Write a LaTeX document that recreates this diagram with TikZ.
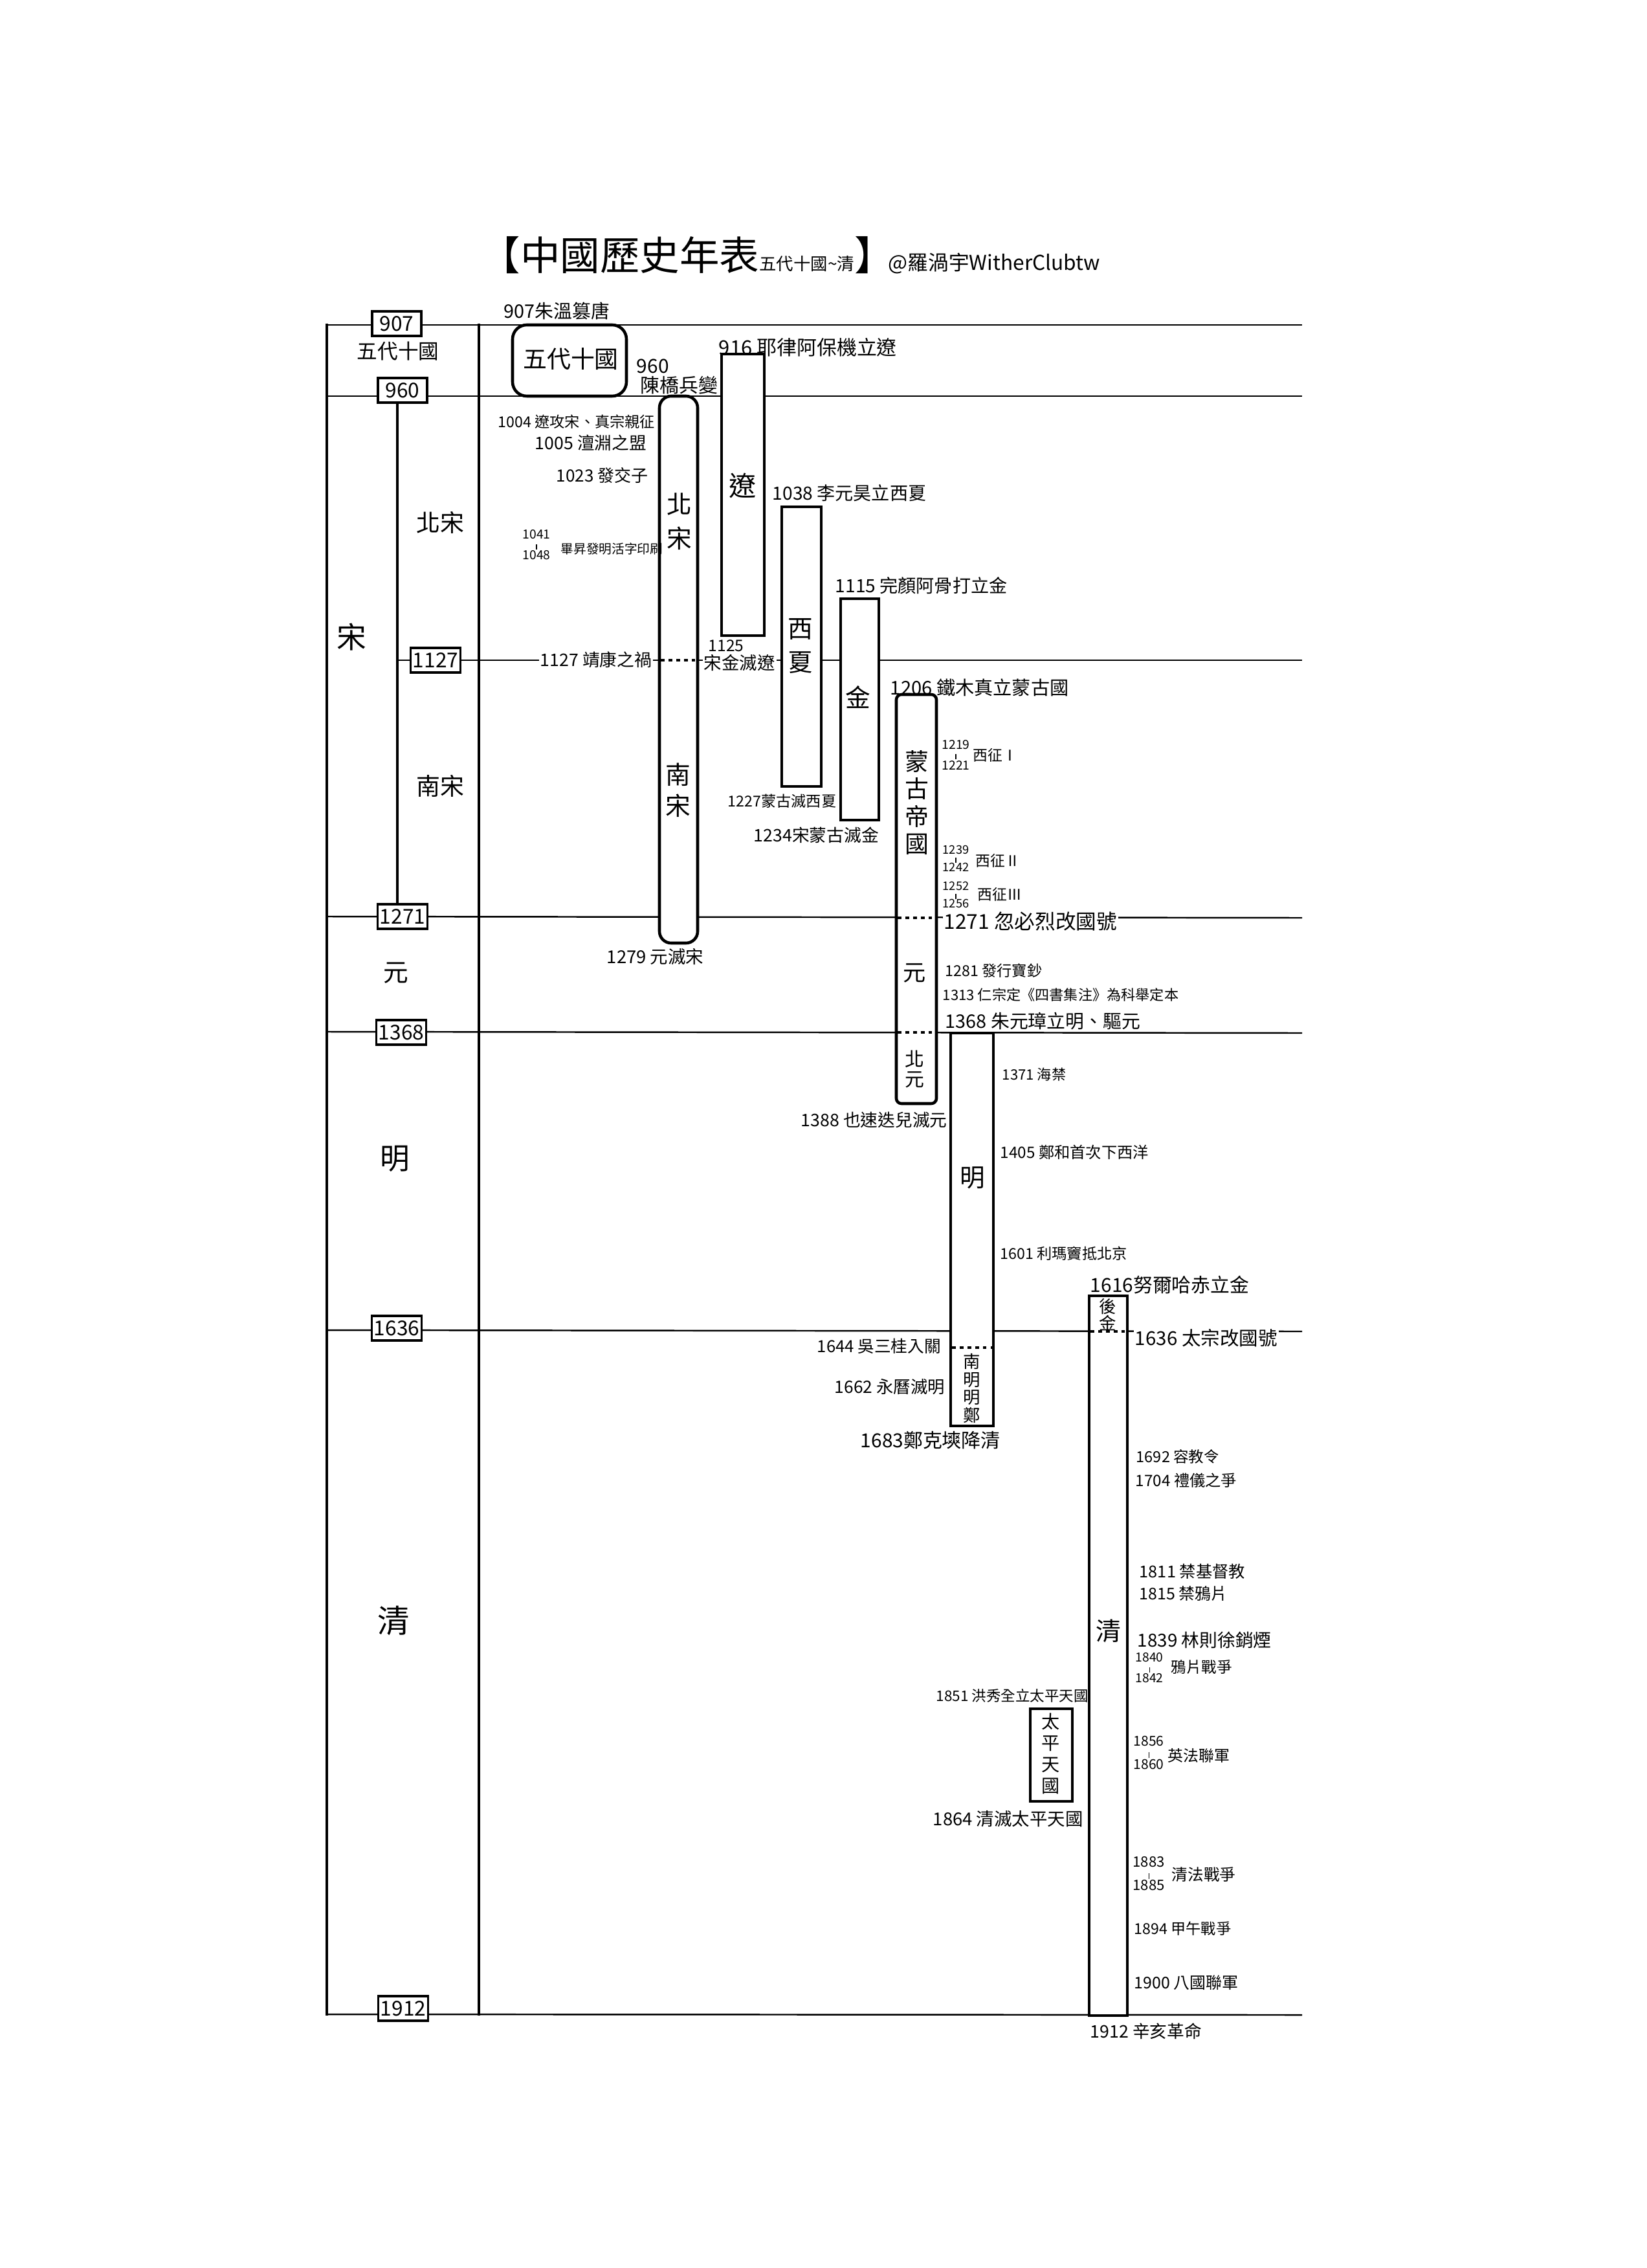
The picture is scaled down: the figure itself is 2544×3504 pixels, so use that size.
\documentclass[tikz,border=0pt]{standalone}
\usepackage{fontspec}
\setmainfont{Noto Sans CJK TC}
\newcommand\fpt[1]{\fontsize{#1pt}{#1pt}\selectfont}
% stacked year range: first year, a small tick, last year
\newcommand\yspan[2]{#1\\[-0.3em]\rule{0.3pt}{0.4em}\\[-0.3em]#2}
\begin{document}
\begin{tikzpicture}[x=0.01cm,y=-0.01cm,
  hline/.style={line width=0.7pt},
  vline/.style={line width=1.2pt},
  subline/.style={line width=0.9pt},
  dyn/.style={draw,line width=1.3pt,fill=white},
  trans/.style={line width=1.1pt,dash pattern=on 1.6pt off 1.8pt},
  ybox/.style={draw,line width=0.9pt,fill=white,inner sep=1pt,
    minimum width=0.76cm,minimum height=0.38cm,font=\fpt{9}},
  lab/.style={inner sep=0.6pt,anchor=west},
  labr/.style={inner sep=0.6pt,anchor=east},
  onl/.style={fill=white},
  vt/.style={align=center,inner sep=0pt},
  yst/.style={align=center,inner sep=0pt,font=\fontsize{5.5pt}{6.2pt}\selectfont},
]
\useasboundingbox (0,0) rectangle (2544,3504);

% title and author
\node[anchor=base west,inner sep=0pt] (title) at (742,418)
  {\fpt{17.5}【中國歷史年表{\fpt{7.5}五代十國\textasciitilde 清}】};
\node[anchor=base west,inner sep=0pt] (author) at ([xshift=-0.1cm]title.base east)
  {\fpt{9}@羅渦宇WitherClubtw};

% year grid
\draw[hline] (505,502) -- (2012,502);
\draw[hline] (505,612) -- (2012,612);
\draw[hline] (614,1020) -- (2012,1020);
\draw[hline] (505,1416) -- (2012,1418);
\draw[hline] (505,1594) -- (2012,1596);
\draw[hline] (505,2055) -- (2012,2057);
\draw[hline] (505,3112) -- (2012,3113);
\draw[vline] (505,500) -- (505,3114);
\draw[vline] (740,500) -- (740,3114);
\draw[subline] (614,612) -- (614,1416);

% year markers
\node[ybox] (y907) at (613,500) {907};
\node[ybox] (y960) at (622,603) {960};
\node[ybox] (y1127) at (673,1020) {1127};
\node[ybox] (y1271) at (622,1416) {1271};
\node[ybox] (y1368) at (620,1595) {1368};
\node[ybox] (y1636) at (613,2052) {1636};
\node[ybox] (y1912) at (623,3103) {1912};

% period names in the left column
\node[font=\fpt{9}] (l5d) at (615,543) {五代十國};
\node[font=\fpt{13}] (lsong) at (543,984) {宋};
\node[font=\fpt{10.5}] (lbs) at (680,807) {北宋};
\node[font=\fpt{10.5}] (lns) at (680,1214) {南宋};
\node[font=\fpt{11}] (lyuan) at (612,1503) {元};
\node[font=\fpt{13}] (lming) at (610,1790) {明};
\node[font=\fpt{14}] (lqing) at (608,2504) {清};

% dynasty bars
\draw[dyn,rounded corners=0.22cm] (792,502) rectangle (968,612);
\draw[dyn,rounded corners=0.18cm] (1019,612) rectangle (1078,1457);
\draw[dyn] (1115,547) rectangle (1181,982);
\draw[dyn] (1208,783) rectangle (1269,1215);
\draw[dyn] (1299,925) rectangle (1358,1267);
\draw[dyn,rounded corners=0.08cm] (1385,1073) rectangle (1447,1705);
\draw[dyn] (1469,1596) rectangle (1535,2203);
\draw[dyn] (1683,2002) rectangle (1742,3114);
\draw[dyn] (1592,2640) rectangle (1657,2783);

% transitions inside the bars
\draw[trans] (1021,1020) -- (1076,1020);
\draw[trans] (1387,1418) -- (1445,1418);
\draw[trans] (1387,1595) -- (1445,1595);
\draw[trans] (1471,2082) -- (1533,2082);
\draw[trans] (1685,2057) -- (1740,2057);

% names inside the bars
\node[font=\fpt{10.5}] (t5d) at (882,555) {五代十國};
\node[vt,font=\fontsize{11pt}{15pt}\selectfont] (tbs) at (1050,806) {北\\宋};
\node[vt,font=\fontsize{11pt}{13.5pt}\selectfont] (tns) at (1048,1221) {南\\宋};
\node[font=\fpt{12}] (tliao) at (1148,750) {遼};
\node[vt,font=\fontsize{11pt}{15pt}\selectfont] (txx) at (1237,998) {西\\夏};
\node[font=\fpt{11}] (tjin) at (1326,1077) {金};
\node[vt,font=\fontsize{10.5pt}{12pt}\selectfont] (tmg) at (1417,1240) {蒙\\古\\帝\\國};
\node[font=\fpt{10}] (tyuan) at (1413,1503) {元};
\node[vt,font=\fontsize{8.5pt}{9pt}\selectfont] (tby) at (1413,1652) {北\\元};
\node[font=\fpt{11}] (tming) at (1503,1820) {明};
\node[vt,font=\fontsize{7.5pt}{7.8pt}\selectfont] (tnm) at (1502,2145) {南\\明\\明\\鄭};
\node[vt,font=\fontsize{7.5pt}{7.2pt}\selectfont] (thj) at (1712,2031) {後\\金};
\node[font=\fpt{11}] (tqing) at (1713,2520) {清};
\node[vt,font=\fontsize{8pt}{9.4pt}\selectfont] (ttp) at (1624,2709) {太\\平\\天\\國};

% events
\node[lab,font=\fpt{8.2}] (e907) at (776,480) {907朱溫篡唐};
\node[lab,font=\fpt{8.8}] (e916) at (1108,537) {916 耶律阿保機立遼};
\node[lab,font=\fpt{8.5}] (e960a) at (981,566) {960};
\node[lab,font=\fpt{8.5}] (e960b) at (987,595) {陳橋兵變};
\node[labr,font=\fpt{6.6}] (e1004) at (1015,652) {1004 遼攻宋、真宗親征};
\node[lab,font=\fpt{7.6}] (e1005) at (824,684) {1005 澶淵之盟};
\node[lab,font=\fpt{7.4}] (e1023) at (857,735) {1023 發交子};
\node[yst] (y1041) at (829,842) {\yspan{1041}{1048}};
\node[lab,font=\fpt{5.6}] (e1041) at (864,848) {畢昇發明活字印刷};
\node[lab,onl,font=\fpt{7.6}] (e1127) at (832,1019) {1127 靖康之禍};
\node[lab,font=\fpt{7}] (e1125a) at (1092,998) {1125};
\node[lab,onl,font=\fpt{7.8}] (e1125b) at (1085,1024) {宋金滅遼};
\node[lab,font=\fpt{8}] (e1038) at (1191,762) {1038 李元昊立西夏};
\node[lab,font=\fpt{8}] (e1115) at (1288,905) {1115 完顏阿骨打立金};
\node[lab,font=\fpt{6.6}] (e1227) at (1122,1238) {1227蒙古滅西夏};
\node[lab,font=\fpt{7.6}] (e1234) at (1162,1290) {1234宋蒙古滅金};
\node[lab,font=\fpt{8.3}] (e1206) at (1373,1062) {1206 鐵木真立蒙古國};
\node[yst] (y1219) at (1477,1166) {\yspan{1219}{1221}};
\node[lab,font=\fpt{6.5}] (e1219) at (1501,1167) {西征Ⅰ};
\node[yst,font=\fontsize{5.2pt}{5.4pt}\selectfont] (y1239) at (1477,1326) {\yspan{1239}{1242}};
\node[lab,font=\fpt{6.5}] (e1239) at (1505,1330) {西征Ⅱ};
\node[yst,font=\fontsize{5.2pt}{5.4pt}\selectfont] (y1252) at (1477,1382) {\yspan{1252}{1256}};
\node[lab,font=\fpt{6.5}] (e1252) at (1508,1382) {西征Ⅲ};
\node[lab,onl,font=\fpt{9}] (e1271) at (1456,1424) {1271 忽必烈改國號};
\node[lab,font=\fpt{7.8}] (e1279) at (935,1478) {1279 元滅宋};
\node[lab,font=\fpt{6.6}] (e1281) at (1458,1500) {1281 發行寶鈔};
\node[lab,font=\fpt{6.3}] (e1313) at (1454,1537) {1313 仁宗定《四書集注》為科舉定本};
\node[lab,font=\fpt{8.2}] (e1368) at (1458,1578) {1368 朱元璋立明、驅元};
\node[lab,font=\fpt{7.6}] (e1388) at (1235,1730) {1388 也速迭兒滅元};
\node[lab,font=\fpt{6.3}] (e1371) at (1546,1660) {1371 海禁};
\node[lab,font=\fpt{6.9}] (e1405) at (1543,1780) {1405 鄭和首次下西洋};
\node[lab,font=\fpt{6.6}] (e1601) at (1543,1937) {1601 利瑪竇抵北京};
\node[lab,font=\fpt{8.5}] (e1616) at (1682,1985) {1616努爾哈赤立金};
\node[lab,onl,font=\fpt{8.4}] (e1636) at (1751,2067) {1636 太宗改國號};
\node[lab,font=\fpt{7.3}] (e1644) at (1260,2080) {1644 吳三桂入關};
\node[lab,font=\fpt{7.5}] (e1662) at (1287,2143) {1662 永曆滅明};
\node[lab,font=\fpt{8.5}] (e1683) at (1327,2225) {1683鄭克塽降清};
\node[lab,font=\fpt{6.7}] (e1692) at (1753,2250) {1692 容教令};
\node[lab,font=\fpt{6.9}] (e1704) at (1752,2287) {1704 禮儀之爭};
\node[lab,font=\fpt{7.2}] (e1811) at (1758,2428) {1811 禁基督教};
\node[lab,font=\fpt{7.1}] (e1815) at (1758,2462) {1815 禁鴉片};
\node[lab,font=\fpt{7.9}] (e1839) at (1755,2534) {1839 林則徐銷煙};
\node[yst] (y1840) at (1776,2577) {\yspan{1840}{1842}};
\node[lab,font=\fpt{6.7}] (e1840) at (1807,2576) {鴉片戰爭};
\node[lab,font=\fpt{6.4}] (e1851) at (1444,2620) {1851 洪秀全立太平天國};
\node[lab,font=\fpt{7.8}] (e1864) at (1439,2810) {1864 清滅太平天國};
\node[yst,font=\fontsize{6pt}{7pt}\selectfont] (y1856) at (1775,2708) {\yspan{1856}{1860}};
\node[lab,font=\fpt{6.8}] (e1856) at (1802,2712) {英法聯軍};
\node[yst,font=\fontsize{6.3pt}{7pt}\selectfont] (y1883) at (1775,2895) {\yspan{1883}{1885}};
\node[lab,font=\fpt{7}] (e1883) at (1808,2896) {清法戰爭};
\node[lab,font=\fpt{6.6}] (e1894) at (1750,2980) {1894 甲午戰爭};
\node[lab,font=\fpt{7.1}] (e1900) at (1750,3063) {1900 八國聯軍};
\node[lab,font=\fpt{7.6}] (e1912) at (1682,3138) {1912 辛亥革命};
\end{tikzpicture}
\end{document}
